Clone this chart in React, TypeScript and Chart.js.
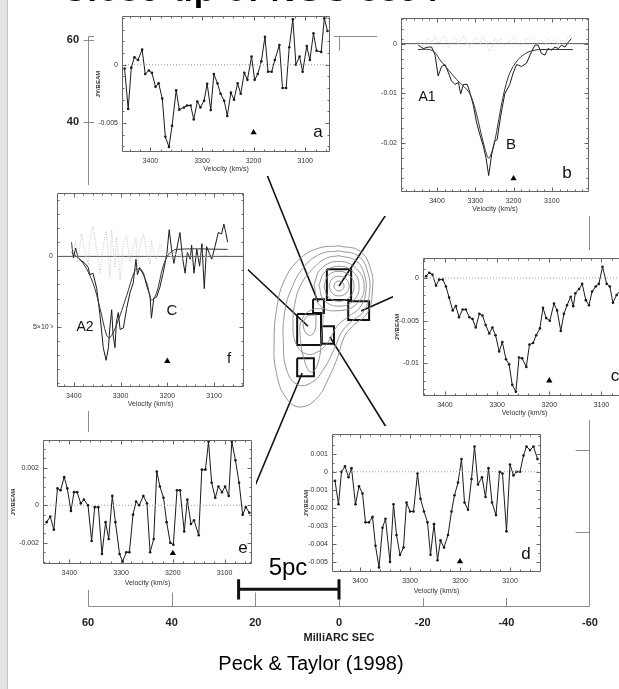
import React, { useEffect, useRef } from "react";
import { Chart, registerables } from "chart.js";

Chart.register(...registerables);

const FONT = '"Liberation Sans", Arial, Helvetica, sans-serif';

// ---------- main map (milliarcsec) ----------
const MAIN_X_TICKS = [60, 40, 20, 0, -20, -40, -60];
const MAIN_Y_TICKS = [60, 40, 20, 0, -20, -40, -60];

const CORE_1 = [[1.2, 0], [0.85, 0.85], [0, 1.2], [-0.85, 0.85], [-1.2, 0], [-0.85, -0.85], [0, -1.2], [0.85, -0.85], [1.2, 0]];
const CORE_2 = [[2.4, 0], [1.7, 1.7], [0, 2.4], [-1.7, 1.7], [-2.4, 0], [-1.7, -1.7], [0, -2.4], [1.7, -1.7], [2.4, 0]];
const CORE_3 = [[3.6, 0], [2.55, 2.55], [0, 3.6], [-2.55, 2.55], [-3.6, 0], [-2.6, -2.6], [0, -3.7], [2.6, -2.6], [3.6, 0]];
const CORE_4 = [[4.8, 0.2], [3.4, 3.4], [0, 4.8], [-3.4, 3.4], [-4.8, 0], [-3.5, -3.5], [0, -4.9], [3.6, -3.4], [4.8, 0.2]];
const CORE_5 = [[6.0, 0.3], [4.3, 4.2], [0, 6.0], [-4.2, 4.2], [-6.0, 0], [-4.4, -4.2], [0, -6.0], [4.5, -4.8], [6.0, 0.3]];
const OUTER_1 = [[0, 9.8], [-5, 8.5], [-7.6, 4], [-8, -1], [-6.8, -6.5], [-3.2, -9.8], [-1.2, -12.5], [0.2, -17], [2.5, -22.5], [5, -27], [9, -29.5], [12.5, -27.5], [15, -21], [15.5, -13], [14.8, -5], [13, 1.5], [9.5, 6.5], [5, 9.2], [0, 9.8]];
const OUTER_2 = [[0, 8.6], [-4.6, 7.3], [-6.9, 3.3], [-7.3, -1.5], [-6, -6], [-2.8, -8.8], [-0.6, -11.3], [1, -15], [3.5, -20], [6.5, -23.5], [10, -24], [12.5, -20.5], [13.3, -14], [13, -6.5], [11.5, -1], [8.5, 4.5], [4.5, 7.8], [0, 8.6]];
const OUTER_3 = [[0, 7.4], [-4, 6.2], [-6, 3], [-6.4, -1.5], [-5, -5.2], [-2.2, -7.5], [0.5, -9.8], [2.5, -13.5], [5, -16], [8, -16.5], [10.3, -14], [11, -9.5], [10.5, -4], [9, 0.5], [6, 4.5], [3, 6.8], [0, 7.4]];
const OUTER_4 = [[4, -5.5], [6.5, -5.8], [8.8, -8], [9.3, -12], [8, -19], [6.5, -21], [4.8, -18], [4.2, -12], [3.8, -8], [4, -5.5]];
const OUTER_5 = [[5.5, -7], [7.8, -7.5], [8.5, -10], [7.2, -12], [5.8, -11], [5.5, -7]];
const CONTOURS = [CORE_1, CORE_2, CORE_3, CORE_4, CORE_5, OUTER_1, OUTER_2, OUTER_3, OUTER_4, OUTER_5];

const BOX_A = [[6.2, -3.2], [3.6, -3.2], [3.6, -6.6], [6.2, -6.6], [6.2, -3.2]];
const BOX_B = [[2.9, 4.1], [-2.9, 4.1], [-2.9, -3.4], [2.9, -3.4], [2.9, 4.1]];
const BOX_C = [[-2.2, -3.7], [-7.2, -3.7], [-7.2, -8.3], [-2.2, -8.3], [-2.2, -3.7]];
const BOX_D = [[4.1, -9.8], [1.2, -9.8], [1.2, -14.1], [4.1, -14.1], [4.1, -9.8]];
const BOX_E = [[10.0, -17.6], [6.0, -17.6], [6.0, -22.0], [10.0, -22.0], [10.0, -17.6]];
const BOX_F = [[10.0, -6.8], [4.3, -6.8], [4.3, -14.4], [10.0, -14.4], [10.0, -6.8]];
const BOXES = [BOX_A, BOX_B, BOX_C, BOX_D, BOX_E, BOX_F];

const LINK_A = [[19.4, 32.7], [5.0, -3.9]];
const LINK_B = [[-14.8, 22.9], [0, 0]];
const LINK_C = [[-20.1, 0.7], [-5.3, -6.1]];
const LINK_D = [[2.2, -12.4], [-12, -35.6]];
const LINK_E = [[8.8, -21.2], [20.8, -50.5]];
const LINK_F = [[22.7, 4.9], [7.4, -9.8]];
const LINKS = [LINK_A, LINK_B, LINK_C, LINK_D, LINK_E, LINK_F];

const SCALE_BAR = [[24, -74], [0, -74]];
const SCALE_CAP_L = [[24, -71.5], [24, -76.5]];
const SCALE_CAP_R = [[0, -71.5], [0, -76.5]];

// ---------- spectra (velocity km/s, flux mJy/beam) ----------
const VEL_TICKS = [3400, 3300, 3200, 3100];
const MARKER_VEL = 3200;

const A_VEL = [3450, 3443, 3437, 3431, 3424, 3416, 3410, 3403, 3397, 3390, 3384, 3377, 3371, 3364, 3358, 3350, 3344, 3335, 3329, 3322, 3316, 3309, 3303, 3296, 3290, 3283, 3277, 3270, 3264, 3257, 3251, 3244, 3238, 3231, 3225, 3218, 3212, 3204, 3198, 3192, 3185, 3178, 3172, 3165, 3159, 3150, 3144, 3137, 3131, 3124, 3118, 3111, 3105, 3097, 3091, 3084, 3078, 3069, 3063, 3057];
const A_FLUX = [-0.33, -3.8, -0.25, 0.64, 0.4, 1.3, -0.8, -0.5, -0.7, -1.9, -1.6, -2.9, -6.2, -7.06, -5.25, -2.2, -3.86, -3.67, -3.5, -3.5, -4.7, -3.17, -3.67, -3.1, -1.64, -3.9, -0.8, -1.6, -2.5, -3.1, -4.4, -2.4, -3.0, -1.6, -2.5, -0.7, -1.3, 0.7, -1.3, -0.8, 0.3, 2.4, -0.6, -0.6, 0.4, 1.7, -2.0, -2.0, 1.5, 3.9, 0, 0.7, -0.6, 1.6, 0.4, 2.7, 1.2, 1.1, 4.0, 2.9];

const B_VEL = [3449, 3436, 3423, 3414, 3405, 3397, 3388, 3379, 3370, 3362, 3353, 3344, 3338, 3331, 3321, 3314, 3305, 3297, 3288, 3279, 3272, 3265, 3257, 3249, 3243, 3234, 3223, 3210, 3201, 3192, 3179, 3166, 3153, 3144, 3136, 3127, 3118, 3110, 3101, 3092, 3083, 3075, 3066, 3057, 3049];
const B_FLUX = [-0.3, -1.0, -0.7, -0.7, -2.3, -6.5, -4.6, -4.2, -5.9, -7.5, -8.2, -7.8, -10.1, -8.2, -8.2, -9.8, -12.4, -15.7, -18.3, -20.6, -22.9, -26.5, -22.2, -19.6, -19.3, -14.7, -10.1, -8.2, -5.9, -4.2, -4.6, -3.9, -1.6, -0.3, -0.3, -2.0, -2.3, -1.0, -1.3, -0.7, -1.0, -0.3, -0.7, 0.3, 1.0];
const B_RESID = [0.5, -0.6, 1.2, 0.3, 1.4, -0.4, 0.9, 1.5, -0.8, 0.6, 1.3, -0.2, 0.8, 1.6, 0.2, -0.9, 0.7, 1.2, -0.3, 1.4, 0.4, -1.5, -0.8, 0.9, 0.3, 1.1, -0.5, 0.6, 1.3, 0.2, -0.4, 0.8, 1.2, 0.5, -0.2, 0.6, -0.3, 0.9, 0.2, 1.0, -0.4, 0.7, 0.3, 1.2, 1.8];
const B_FIT_VEL = [3450, 3420, 3405, 3392, 3370, 3349, 3330, 3314, 3300, 3288, 3276, 3265, 3254, 3244, 3233, 3223, 3212, 3201, 3188, 3175, 3162, 3149, 3135, 3045];
const B_FIT = [-1.2, -1.2, -1.8, -3.3, -5.3, -7.2, -8.6, -10.1, -13.2, -17.0, -20.8, -23.0, -21.0, -17.6, -12.8, -9.2, -6.3, -4.6, -3.2, -2.3, -1.7, -1.4, -1.2, -1.2];

const C_VEL = [3436, 3430, 3424, 3417, 3411, 3404, 3398, 3392, 3385, 3379, 3373, 3366, 3360, 3353, 3347, 3341, 3334, 3328, 3322, 3315, 3309, 3303, 3296, 3290, 3283, 3277, 3271, 3264, 3258, 3252, 3244, 3238, 3231, 3225, 3218, 3212, 3206, 3199, 3191, 3185, 3178, 3172, 3166, 3159, 3154, 3150, 3143, 3137, 3130, 3124, 3118, 3111, 3105, 3098, 3090, 3084, 3078, 3071, 3064, 3058];
const C_FLUX = [0.2, 0.6, 0.4, -0.9, -0.2, -0.2, -1.0, -2.3, -3.8, -3.3, -4.6, -3.7, -3.7, -4.6, -4.8, -5.8, -4.2, -4.4, -5.5, -6.5, -5.8, -6.7, -8.6, -7.5, -9.5, -10.1, -12.5, -13.3, -9.3, -9.4, -10.4, -7.8, -7.6, -6.7, -5.9, -3.5, -4.7, -5.0, -3.0, -3.8, -6.2, -4.2, -3.2, -2.2, -3.3, -1.8, -1.3, -0.7, -2.6, -3.2, -1.6, -1.0, -0.7, 1.3, -0.7, -1.0, -2.9, -2.0, -1.5, -2.5];

const D_VEL = [3450, 3443, 3437, 3430, 3423, 3417, 3409, 3402, 3395, 3389, 3382, 3375, 3369, 3362, 3355, 3349, 3340, 3333, 3327, 3320, 3313, 3307, 3300, 3293, 3285, 3279, 3272, 3265, 3259, 3252, 3245, 3239, 3232, 3224, 3217, 3211, 3204, 3197, 3191, 3184, 3177, 3171, 3164, 3156, 3149, 3143, 3136, 3128, 3121, 3115, 3107, 3100, 3093, 3087, 3080, 3073, 3067, 3060, 3053, 3045];
const D_FLUX = [-0.5, -1.8, 0, 0.3, -0.3, 0.2, -1.8, -0.8, -1.2, -2.8, -2.8, -2.5, -4.1, -5.3, -3.1, -2.6, -5.0, -1.8, -3.5, -4.6, -4.2, -1.7, -2.2, -2.2, -0.1, -1.5, -2.2, -2.8, -4.6, -2.9, -4.9, -3.8, -4.2, -3.5, -2.2, -1.3, -0.6, 0.7, -1.7, -2.1, -0.4, 1.4, -0.7, -0.3, -1.4, 0.2, -1.7, -2.4, 0, -0.1, -3.3, 0.4, -0.2, 0, 0, 0.9, 1.4, 1.2, 1.4, 0.7];

const E_VEL = [3444, 3437, 3430, 3423, 3417, 3410, 3404, 3397, 3391, 3385, 3378, 3372, 3364, 3357, 3351, 3344, 3337, 3330, 3324, 3317, 3311, 3303, 3297, 3290, 3284, 3277, 3271, 3265, 3257, 3250, 3244, 3237, 3231, 3225, 3218, 3212, 3205, 3199, 3192, 3186, 3178, 3172, 3165, 3159, 3150, 3144, 3137, 3131, 3125, 3118, 3112, 3105, 3099, 3092, 3086, 3079, 3072, 3065, 3059, 3052];
const E_FLUX = [-0.9, -0.6, -1.3, 0.9, 0.8, 1.5, 0.9, -0.3, 0.7, 0.7, 0.1, 0.3, 0, -1.9, -0.1, -0.1, -2.6, -0.9, -1.8, 0.5, -0.9, -2.6, -3.0, -2.5, -2.5, -0.5, 0.2, 0, 0.5, 0.1, -2.5, -1.8, 1.8, 1.0, 0.4, -0.9, -2.0, -2.1, 0.8, 0.8, -1.4, 0.3, -1.0, -0.8, -1.6, 1.9, 1.9, 3.4, 1.2, 0.4, 1.0, 0.7, 1.0, 0.5, 3.4, 2.4, 1.2, -0.5, -0.1, -0.4];

const F_VEL = [3405, 3401, 3396, 3391, 3384, 3376, 3369, 3366, 3359, 3351, 3344, 3337, 3331, 3326, 3323, 3319, 3316, 3312, 3309, 3305, 3301, 3294, 3287, 3280, 3273, 3267, 3264, 3259, 3251, 3244, 3237, 3234, 3229, 3223, 3216, 3209, 3201, 3196, 3191, 3186, 3180, 3173, 3167, 3162, 3157, 3151, 3148, 3143, 3137, 3131, 3126, 3121, 3116, 3110, 3105, 3098, 3091, 3084, 3079, 3075, 3071];
const F_FLUX = [1.0, -0.1, 0.6, -0.1, -0.3, -0.5, -0.8, -1.3, -1.2, -2.3, -4.2, -6.5, -7.4, -6.5, -5.1, -3.8, -5.6, -6.5, -4.7, -4.0, -5.2, -5.1, -3.7, -2.6, -1.9, -0.2, -1.3, -0.8, -1.2, -2.1, -2.8, -4.4, -3.0, -2.9, -2.2, -1.2, 0.2, 1.9, 0.5, -0.5, 0.5, 1.7, -0.2, -1.2, 0.3, -0.2, 0.8, -1.2, 0.5, -0.7, 0.9, -2.3, 0.7, 0.2, -0.2, 0.7, 1.7, 1.6, 2.3, 1.7, 1.0];
const F_RESID = [0.9, 0.2, 1.1, -0.4, 1.6, 0.3, -0.6, 1.2, 2.1, 0.4, -1.2, 0.8, 1.8, 0.2, -1.5, 1.9, 0.6, -0.8, 1.4, 0.1, -1.7, 0.9, 1.5, -0.4, 0.7, 1.3, -0.9, 0.8, 1.6, 0.2, -0.6, 1.1, 0.3, -0.2, 0.9, 0.4, 0.1, 0.2, -0.1, 0.3, 0, 0.2, -0.2, 0.1, 0.3, -0.1, 0.2, 0, 0.1, -0.2, 0.2, 0.1, -0.1, 0.2, 0, 0.1, 0.2, -0.1, 0.1, 0, 0.2];
const F_FIT_VEL = [3405, 3380, 3359, 3344, 3330, 3323, 3309, 3287, 3269, 3259, 3244, 3234, 3223, 3209, 3196, 3180, 3071];
const F_FIT = [0.3, -0.5, -1.9, -3.7, -5.6, -5.8, -4.9, -2.8, -1.0, -0.9, -1.9, -3.1, -2.6, -0.7, 0.2, 0.5, 0.5];

// y tick values (mJy) and their printed labels (Jy)
const A_YTICKS = [0, -5];
const A_YLABELS = ["0", "-0.005"];
const B_YTICKS = [0, -10, -20];
const B_YLABELS = ["0", "-0.01", "-0.02"];
const C_YTICKS = [0, -5, -10];
const C_YLABELS = ["0", "-0.005", "-0.01"];
const D_YTICKS = [1, 0, -1, -2, -3, -4, -5];
const D_YLABELS = ["0.001", "0", "-0.001", "-0.002", "-0.003", "-0.004", "-0.005"];
const E_YTICKS = [2, 0, -2];
const E_YLABELS = ["0.002", "0", "-0.002"];
const F_YTICKS = [0, -5];
const F_YLABELS = ["0", "5×10⁻³"];

// ---------- helpers ----------
const pts = (arr: number[][]) => arr.map(([x, y]) => ({ x, y }));
const series = (v: number[], f: number[]) => v.map((x, i) => ({ x, y: f[i] }));
const steps = (a: number, b: number, s: number) => {
  const out: number[] = [];
  for (let v = a; v <= b + 1e-9; v += s) out.push(v);
  return out;
};

const frameTicks = {
  id: "frameTicks",
  afterDatasetsDraw(chart: any, _args: any, o: any) {
    if (!o || !o.show) return;
    const { ctx, chartArea: a, scales } = chart;
    const xs = scales.x;
    const ys = scales.y;
    ctx.save();
    ctx.strokeStyle = o.color;
    ctx.lineWidth = o.width;
    ctx.beginPath();
    const L = Math.round(a.left) + 0.5;
    const T = Math.round(a.top) + 0.5;
    const R = Math.round(a.right) - 0.5;
    const B = Math.round(a.bottom) - 0.5;
    ctx.moveTo(L, T);
    ctx.lineTo(R, T);
    ctx.lineTo(R, B);
    ctx.lineTo(L, B);
    ctx.closePath();
    const out = o.outLeft || 0;
    const tx = (vals: number[], len: number) => {
      for (const v of vals) {
        const p = Math.round(xs.getPixelForValue(v)) + 0.5;
        if (p <= L || p >= R) continue;
        ctx.moveTo(p, B);
        ctx.lineTo(p, B - len);
        ctx.moveTo(p, T);
        ctx.lineTo(p, T + len);
      }
    };
    const ty = (vals: number[], len: number, o2: number) => {
      for (const v of vals) {
        const p = Math.round(ys.getPixelForValue(v)) + 0.5;
        if (p <= T || p >= B) continue;
        ctx.moveTo(L - o2, p);
        ctx.lineTo(L + len, p);
        ctx.moveTo(R, p);
        ctx.lineTo(R - len, p);
      }
    };
    tx(o.xMajor || [], o.major);
    tx(o.xMinor || [], o.minor);
    ty(o.yMajor || [], o.major, out);
    ty(o.yMinor || [], o.minor, 0);
    ctx.stroke();
    ctx.restore();
  },
};

const lineDs = (data: any[], color: string, width: number, extra: any = {}) => ({
  data,
  showLine: true,
  borderColor: color,
  backgroundColor: color,
  borderWidth: width,
  pointRadius: 0,
  tension: 0,
  ...extra,
});

// ---------- main chart ----------
function MainMap() {
  const ref = useRef<HTMLCanvasElement>(null);
  useEffect(() => {
    const datasets: any[] = [];
    CONTOURS.forEach((c) => datasets.push(lineDs(pts(c), "#8a8a8a", 0.9, { tension: 0.45 })));
    LINKS.forEach((l) => datasets.push(lineDs(pts(l), "#111", 1.6)));
    BOXES.forEach((b) => datasets.push(lineDs(pts(b), "#111", 2)));
    const chart = new Chart(ref.current!, {
      type: "scatter",
      data: { datasets },
      options: {
        animation: false,
        responsive: false,
        devicePixelRatio: 1,
        events: [],
        layout: { padding: { left: 48, right: 29, top: 36, bottom: 40 } },
        plugins: {
          legend: { display: false },
          tooltip: { enabled: false },
          frameTicks: { show: true, color: "#8c8c8c", width: 1, xMajor: MAIN_X_TICKS, yMajor: MAIN_Y_TICKS, major: 14, minor: 0, outLeft: 5 },
        } as any,
        scales: {
          x: {
            type: "linear",
            min: -60,
            max: 60,
            reverse: true,
            afterBuildTicks: (s: any) => { s.ticks = MAIN_X_TICKS.map((value) => ({ value })); },
            afterFit: (s: any) => { s.height = 42; },
            grid: { display: false, drawTicks: false },
            border: { display: false },
            ticks: { font: { family: FONT, size: 11, weight: "bold" }, color: "#222", padding: 9, maxRotation: 0, autoSkip: false, callback: (v: any) => String(v) },
            title: { display: true, text: "MilliARC SEC", font: { family: FONT, size: 11, weight: "bold" }, color: "#222", padding: { top: 0, bottom: 4 } },
          },
          y: {
            type: "linear",
            min: -78.3,
            max: 61,
            afterBuildTicks: (s: any) => { s.ticks = MAIN_Y_TICKS.map((value) => ({ value })); },
            afterFit: (s: any) => { s.width = 40; },
            grid: { display: false, drawTicks: false },
            border: { display: false },
            ticks: { font: { family: FONT, size: 11, weight: "bold" }, color: "#222", padding: 9, autoSkip: false, callback: (v: any) => String(v) },
          },
        },
      } as any,
      plugins: [frameTicks as any],
    });
    return () => chart.destroy();
  }, []);
  return <canvas ref={ref} width={619} height={689} style={{ position: "absolute", left: 0, top: 0, width: 619, height: 689 }} />;
}

// scale bar drawn on top of the insets, on the same map coordinates
function ScaleBarLayer() {
  const ref = useRef<HTMLCanvasElement>(null);
  useEffect(() => {
    const datasets = [
      lineDs(pts(SCALE_BAR), "#111", 3),
      lineDs(pts(SCALE_CAP_L), "#111", 3),
      lineDs(pts(SCALE_CAP_R), "#111", 3),
    ];
    const chart = new Chart(ref.current!, {
      type: "scatter",
      data: { datasets },
      options: {
        animation: false,
        responsive: false,
        devicePixelRatio: 1,
        events: [],
        layout: { padding: { left: 88, right: 29, top: 36, bottom: 82 } },
        plugins: { legend: { display: false }, tooltip: { enabled: false } },
        scales: {
          x: { type: "linear", min: -60, max: 60, reverse: true, display: false },
          y: { type: "linear", min: -78.3, max: 61, display: false },
        },
      } as any,
    });
    return () => chart.destroy();
  }, []);
  return <canvas ref={ref} width={619} height={689} style={{ position: "absolute", left: 0, top: 0, width: 619, height: 689, pointerEvents: "none" }} />;
}

// ---------- inset spectra ----------
type Panel = {
  frame: number[]; // l, t, r, b in page px
  pad: number[]; // left, right, top, bottom
  x: number[]; // min, max velocity
  y: number[]; // min, max flux
  yTicks: number[];
  yLabels: string[];
  yMinorStep: number;
  yTitle: boolean;
  marker: number;
  datasets: any[];
};

const blackData = (v: number[], f: number[], dots: boolean) =>
  lineDs(series(v, f), "#1a1a1a", 1, { pointRadius: dots ? 1.3 : 0, pointBorderWidth: 0, pointBackgroundColor: "#1a1a1a" });
const zeroDotted = (x: number[]) => lineDs([{ x: x[0], y: 0 }, { x: x[1], y: 0 }], "#9a9a9a", 1, { borderDash: [1, 2] });
const zeroSolid = (x: number[]) => lineDs([{ x: x[0], y: 0 }, { x: x[1], y: 0 }], "#555", 1);

const A_X = [3052, 3455];
const B_X = [3003, 3494];
const C_X = [3053, 3442];
const D_X = [3038, 3456];
const E_X = [3047, 3451];
const F_X = [3036, 3436];

const PANELS: Panel[] = [
  {
    frame: [122, 12, 330, 152], pad: [28, 4, 4, 24], x: A_X, y: [-7.5, 4.17],
    yTicks: A_YTICKS, yLabels: A_YLABELS, yMinorStep: 1, yTitle: true, marker: -5.83,
    datasets: [zeroDotted(A_X), blackData(A_VEL, A_FLUX, true)],
  },
  {
    frame: [401, 14, 589, 192], pad: [24, 4, 4, 24], x: B_X, y: [-29.8, 5.1],
    yTicks: B_YTICKS, yLabels: B_YLABELS, yMinorStep: 2, yTitle: false, marker: -27.1,
    datasets: [
      lineDs(series(B_VEL, B_RESID), "#c8c8c8", 1, { borderDash: [1, 1.5] }),
      zeroSolid(B_X),
      lineDs(series(B_FIT_VEL, B_FIT), "#333", 1, { tension: 0.35 }),
      blackData(B_VEL, B_FLUX, false),
    ],
  },
  {
    frame: [423, 254, 626, 396], pad: [30, 4, 4, 24], x: C_X, y: [-13.8, 2.3],
    yTicks: C_YTICKS, yLabels: C_YLABELS, yMinorStep: 1, yTitle: true, marker: -12.0,
    datasets: [zeroDotted(C_X), blackData(C_VEL, C_FLUX, true)],
  },
  {
    frame: [332, 430, 541, 572], pad: [30, 4, 4, 26], x: D_X, y: [-5.55, 2.08],
    yTicks: D_YTICKS, yLabels: D_YLABELS, yMinorStep: 0.5, yTitle: true, marker: -4.97,
    datasets: [zeroDotted(D_X), blackData(D_VEL, D_FLUX, true)],
  },
  {
    frame: [43, 436, 252, 564], pad: [34, 4, 4, 26], x: E_X, y: [-3.13, 3.47],
    yTicks: E_YTICKS, yLabels: E_YLABELS, yMinorStep: 0.5, yTitle: true, marker: -2.56,
    datasets: [zeroDotted(E_X), blackData(E_VEL, E_FLUX, true)],
  },
  {
    frame: [57, 189, 244, 387], pad: [44, 4, 4, 24], x: F_X, y: [-9.3, 4.5],
    yTicks: F_YTICKS, yLabels: F_YLABELS, yMinorStep: 1, yTitle: false, marker: -7.46,
    datasets: [
      lineDs(series(F_VEL, F_RESID), "#c4c4c4", 1, { borderDash: [1, 1.5] }),
      zeroSolid(F_X),
      lineDs(series(F_FIT_VEL, F_FIT), "#333", 1, { tension: 0.35 }),
      blackData(F_VEL, F_FLUX, false),
    ],
  },
];

function Inset({ p }: { p: Panel }) {
  const ref = useRef<HTMLCanvasElement>(null);
  const [l, t, r, b] = p.frame;
  const [pl, pr, pt, pb] = p.pad;
  const W = r - l + pl + pr;
  const H = b - t + pt + pb;
  useEffect(() => {
    const datasets = [
      ...p.datasets,
      { data: [{ x: MARKER_VEL, y: p.marker }], pointStyle: "triangle", pointRadius: 3.6, backgroundColor: "#000", borderColor: "#000", borderWidth: 0, showLine: false },
    ];
    const tickFont = { family: FONT, size: 7 };
    const chart = new Chart(ref.current!, {
      type: "scatter",
      data: { datasets },
      options: {
        animation: false,
        responsive: false,
        devicePixelRatio: 1,
        events: [],
        layout: { padding: { left: 0, right: pr, top: pt, bottom: 0 } },
        plugins: {
          legend: { display: false },
          tooltip: { enabled: false },
          frameTicks: {
            show: true, color: "#666", width: 1, major: 4, minor: 2,
            xMajor: VEL_TICKS, xMinor: steps(3020, 3480, 20),
            yMajor: p.yTicks, yMinor: steps(Math.ceil(p.y[0]), Math.floor(p.y[1]), p.yMinorStep),
          },
        } as any,
        scales: {
          x: {
            type: "linear", min: p.x[0], max: p.x[1], reverse: true,
            afterBuildTicks: (s: any) => { s.ticks = VEL_TICKS.map((value) => ({ value })); },
            afterFit: (s: any) => { s.height = pb; },
            grid: { display: false, drawTicks: false }, border: { display: false },
            ticks: { font: tickFont, color: "#333", padding: 5, maxRotation: 0, minRotation: 0, autoSkip: false, callback: (v: any) => String(v) },
            title: { display: true, text: "Velocity (km/s)", font: tickFont, color: "#333", padding: { top: 0, bottom: 3 } },
          },
          y: {
            type: "linear", min: p.y[0], max: p.y[1],
            afterBuildTicks: (s: any) => { s.ticks = p.yTicks.map((value) => ({ value })); },
            afterFit: (s: any) => { s.width = pl; },
            grid: { display: false, drawTicks: false }, border: { display: false },
            ticks: { font: tickFont, color: "#333", padding: 4, autoSkip: false, callback: (_v: any, i: number) => p.yLabels[i] },
            title: { display: p.yTitle, text: "JY/BEAM", font: { family: FONT, size: 6, weight: "bold" }, color: "#333", padding: { top: 1, bottom: 0 } },
          },
        },
      } as any,
      plugins: [frameTicks as any],
    });
    return () => chart.destroy();
  }, []);
  return <canvas ref={ref} width={W} height={H} style={{ position: "absolute", left: l - pl, top: t - pt, width: W, height: H, background: "#fff" }} />;
}

const LABELS = [
  { t: "a", x: 318, y: 131, s: 17 },
  { t: "b", x: 567, y: 172, s: 17 },
  { t: "c", x: 615, y: 375, s: 17 },
  { t: "d", x: 526, y: 553, s: 17 },
  { t: "e", x: 243, y: 547, s: 17 },
  { t: "f", x: 229, y: 357, s: 15 },
  { t: "A1", x: 427, y: 96, s: 14 },
  { t: "B", x: 511, y: 143, s: 15 },
  { t: "A2", x: 85, y: 326, s: 14 },
  { t: "C", x: 172, y: 309, s: 15 },
];

export default function App() {
  return (
    <div style={{ position: "fixed", left: 0, top: 0, width: 619, height: 689, overflow: "hidden", background: "#fff", fontFamily: FONT }}>
      <div style={{ position: "absolute", left: 0, top: 0, width: 7, height: 689, background: "#e3e3e3", borderRight: "1px solid #c4c4c4" }} />
      <MainMap />
      {PANELS.map((p, i) => <Inset key={i} p={p} />)}
      <ScaleBarLayer />
      {LABELS.map((l, i) => (
        <div key={i} style={{ position: "absolute", left: l.x, top: l.y, transform: "translate(-50%,-50%)", fontSize: l.s, color: "#111", lineHeight: 1 }}>{l.t}</div>
      ))}
      <div style={{ position: "absolute", left: 62, top: -30, fontSize: 34, fontWeight: "bold", color: "#000", whiteSpace: "nowrap", letterSpacing: 1 }}>Close-up of NGC 3894</div>
      <div style={{ position: "absolute", left: 288, top: 567, transform: "translate(-50%,-50%)", fontSize: 24, color: "#000", lineHeight: 1 }}>5pc</div>
      <div style={{ position: "absolute", left: 311, top: 663, transform: "translate(-50%,-50%)", fontSize: 20, color: "#000", lineHeight: 1, whiteSpace: "nowrap" }}>Peck &amp; Taylor (1998)</div>
    </div>
  );
}
